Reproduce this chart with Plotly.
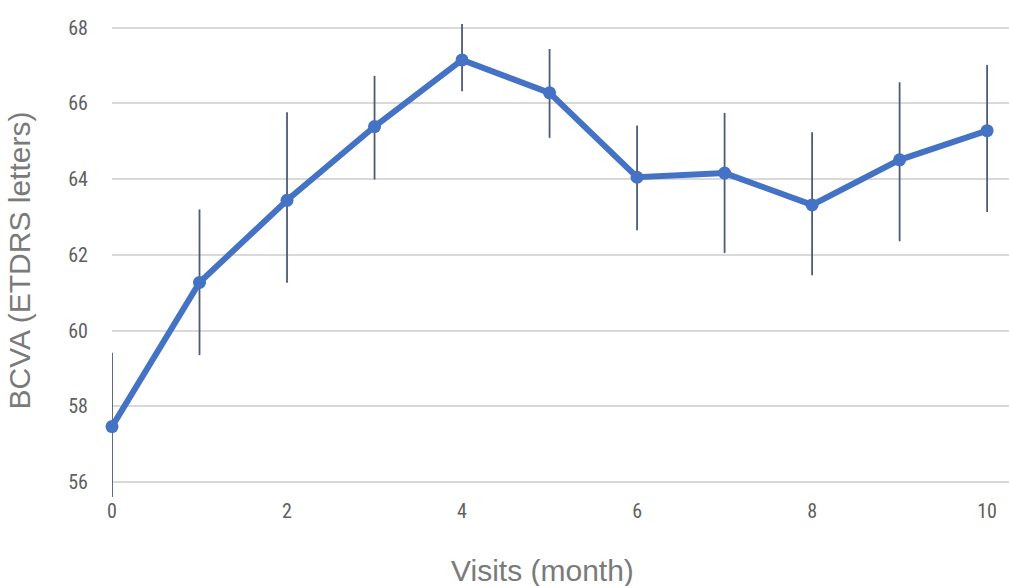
import plotly.graph_objects as go

# Mean BCVA by visit month, with upper/lower error extents
months = [0, 1, 2, 3, 4, 5, 6, 7, 8, 9, 10]
bcva = [57.46, 61.27, 63.44, 65.39, 67.15, 66.28, 64.05, 64.16, 63.32, 64.51, 65.28]
err_plus = [1.95, 1.93, 2.33, 1.34, 0.95, 1.16, 1.37, 1.59, 1.92, 2.05, 1.74]
err_minus = [1.95, 1.92, 2.18, 1.40, 0.83, 1.19, 1.40, 2.11, 1.86, 2.15, 2.15]

y_ticks = [56, 58, 60, 62, 64, 66, 68]
x_ticks = [0, 2, 4, 6, 8, 10]

tick_font = dict(family="Liberation Sans Narrow, Roboto Condensed, Arial Narrow, sans-serif",
                 size=20, color="#5f5f5f")
title_font = dict(family="Liberation Sans, Arial, sans-serif", size=30, color="#7a7a7a")

fig = go.Figure()
fig.add_trace(go.Scatter(
    x=months,
    y=bcva,
    mode="lines+markers",
    line=dict(color="#4472C4", width=6),
    marker=dict(color="#4472C4", size=13),
    error_y=dict(type="data", symmetric=False, array=err_plus, arrayminus=err_minus,
                 color="#4d5b78", thickness=1.8, width=0),
    cliponaxis=False,
    showlegend=False,
))

fig.update_layout(
    width=1009,
    height=586,
    margin=dict(l=112, r=0, t=24, b=89),
    paper_bgcolor="white",
    plot_bgcolor="white",
    xaxis=dict(
        range=[0, 10.25],
        tickvals=x_ticks,
        ticktext=[str(v) for v in x_ticks],
        showgrid=False,
        zeroline=False,
        showline=False,
        tickfont=tick_font,
        automargin=False,
    ),
    yaxis=dict(
        range=[55.6, 68.1],
        tickvals=y_ticks,
        ticktext=[str(v) for v in y_ticks],
        showgrid=True,
        gridcolor="#d9d9d9",
        gridwidth=1.5,
        zeroline=False,
        showline=False,
        tickfont=tick_font,
        ticklabelstandoff=23,
        title=dict(text="BCVA (ETDRS letters)", font=title_font, standoff=28),
        automargin=False,
    ),
    annotations=[dict(
        text="Visits (month)",
        font=title_font,
        xref="paper", yref="paper",
        x=(542 - 112) / 897, y=(586 - 89 - 570) / 473,
        xanchor="center", yanchor="middle",
        showarrow=False,
    )],
)

fig.write_html("out.html")
